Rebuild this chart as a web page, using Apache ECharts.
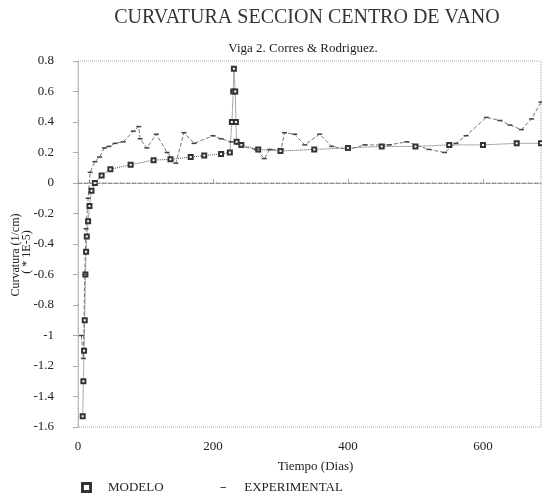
<!DOCTYPE html>
<html>
<head>
<meta charset="utf-8">
<script src="https://cdn.jsdelivr.net/npm/echarts@6/dist/echarts.min.js"></script>
<style>html,body{margin:0;padding:0;background:#fff}#c{width:542px;height:493px}</style>
</head>
<body>
<div id="c"></div>
<script>
const xTicks = [0, 200, 400, 600];
const yTicks = [0.8, 0.6, 0.4, 0.2, 0, -0.2, -0.4, -0.6, -0.8, -1, -1.2, -1.4, -1.6];

const modeloDays = [7, 8, 9, 10, 11, 12, 13, 15, 17, 20, 25, 35, 48, 78, 112, 137, 167, 187, 212, 225, 228, 230, 231, 233, 234, 235, 242, 267, 300, 350, 400, 450, 500, 550, 600, 650, 686];
const modeloVals = [-1.53, -1.3, -1.1, -0.9, -0.6, -0.45, -0.35, -0.25, -0.15, -0.05, 0.0, 0.05, 0.09, 0.12, 0.15, 0.155, 0.17, 0.18, 0.19, 0.2, 0.4, 0.6, 0.75, 0.6, 0.4, 0.27, 0.25, 0.22, 0.21, 0.22, 0.23, 0.24, 0.24, 0.25, 0.25, 0.26, 0.26];

const expDays = [5, 8, 10, 12, 15, 18, 25, 32, 39, 46, 55, 67, 82, 90, 92, 102, 116, 132, 145, 157, 172, 200, 212, 227, 242, 264, 276, 284, 301, 306, 321, 336, 358, 376, 401, 425, 461, 487, 520, 543, 560, 575, 605, 625, 640, 657, 672, 686];
const expVals = [-1.0, -1.15, -0.6, -0.3, -0.1, 0.07, 0.14, 0.17, 0.23, 0.24, 0.26, 0.27, 0.34, 0.37, 0.29, 0.23, 0.32, 0.2, 0.13, 0.33, 0.26, 0.31, 0.29, 0.27, 0.24, 0.22, 0.16, 0.22, 0.22, 0.33, 0.32, 0.25, 0.32, 0.24, 0.22, 0.25, 0.25, 0.27, 0.22, 0.2, 0.26, 0.31, 0.43, 0.41, 0.38, 0.35, 0.42, 0.53];

const modelo = modeloDays.map((d, i) => [d, modeloVals[i]]);
const experimental = expDays.map((d, i) => [d, expVals[i]]);

const serif = 'Liberation Serif';
const chart = echarts.init(document.getElementById('c'), null, {renderer: 'canvas'});
chart.setOption({
  animation: false,
  backgroundColor: '#fff',
  title: [
    {text: 'CURVATURA SECCION CENTRO DE VANO', left: 302, top: 3, textAlign: 'center',
     textStyle: {fontFamily: serif, fontSize: 20, fontWeight: 'normal', color: '#333'}},
    {text: 'Viga 2. Corres & Rodriguez.', left: 298, top: 37, textAlign: 'center',
     textStyle: {fontFamily: serif, fontSize: 13, fontWeight: 'normal', color: '#222'}}
  ],
  grid: {left: 78, top: 61, width: 463, height: 366, show: true, borderColor: '#aaa', borderWidth: 1, borderType: 'dotted'},
  xAxis: {
    type: 'value', min: 0, max: 686, interval: 200,
    name: 'Tiempo (Dias)', nameLocation: 'middle', nameGap: 33,
    nameTextStyle: {fontFamily: serif, fontSize: 13, color: '#222', padding: [0, 0, 0, 12]},
    axisLine: {show: true, lineStyle: {color: '#888', type: 'dashed', width: 1}},
    axisTick: {show: true, inside: true, length: 4, lineStyle: {color: '#aaa'}},
    axisLabel: {fontFamily: serif, fontSize: 13, color: '#222', margin: 13, showMaxLabel: false},
    splitLine: {show: false}
  },
  yAxis: {
    type: 'value', min: -1.6, max: 0.8, interval: 0.2,
    axisLine: {show: true, lineStyle: {color: '#aaa', type: 'dotted'}},
    axisTick: {show: true, length: 5, lineStyle: {color: '#aaa'}},
    axisLabel: {fontFamily: serif, fontSize: 13, color: '#222', margin: 24,
      formatter: v => String(Math.round(v * 10) / 10)},
    splitLine: {show: false}
  },
  legend: {
    left: 76, top: 476, itemGap: 56, itemWidth: 9, itemHeight: 9,
    textStyle: {fontFamily: serif, fontSize: 13, color: '#222', padding: [0, 0, 0, 12]},
    data: [
      {name: 'MODELO', icon: 'path://M0,0L10,0L10,10L0,10ZM1,1L1,9L9,9L9,1Z', itemStyle: {color: '#555'}},
      {name: 'EXPERIMENTAL', icon: 'path://M0,0L0.01,0M1,4.5L7,4.5L7,5.5L1,5.5ZM0,10L0.01,10', itemStyle: {color: '#444'}}
    ]
  },
  graphic: [
    {type: 'text', x: 16, y: 255, rotation: Math.PI / 2, style: {text: 'Curvatura (1/cm)', font: '12px ' + serif, fill: '#222', textAlign: 'center', textVerticalAlign: 'middle'}},
    {type: 'text', x: 27, y: 252, rotation: Math.PI / 2, style: {text: '( * 1E-5)', font: '12px ' + serif, fill: '#222', textAlign: 'center', textVerticalAlign: 'middle'}}
  ],
  series: [
    {
      name: 'MODELO', type: 'line', data: modelo,
      symbol: 'emptyRect', symbolSize: 4, showAllSymbol: true,
      lineStyle: {color: '#555', width: 1, type: 'dotted'},
      itemStyle: {color: '#333', borderColor: '#333', borderWidth: 1},
      markLine: {silent: true, symbol: 'none', label: {show: false},
        lineStyle: {color: '#999', type: 'dotted', width: 1.5},
        data: [{yAxis: 0}]}
    },
    {
      name: 'EXPERIMENTAL', type: 'line', data: experimental,
      symbol: 'rect', symbolSize: [5, 1.5], showAllSymbol: true,
      lineStyle: {color: '#777', width: 1, type: 'dashed'},
      itemStyle: {color: '#444'}
    }
  ]
});
</script>
</body>
</html>
